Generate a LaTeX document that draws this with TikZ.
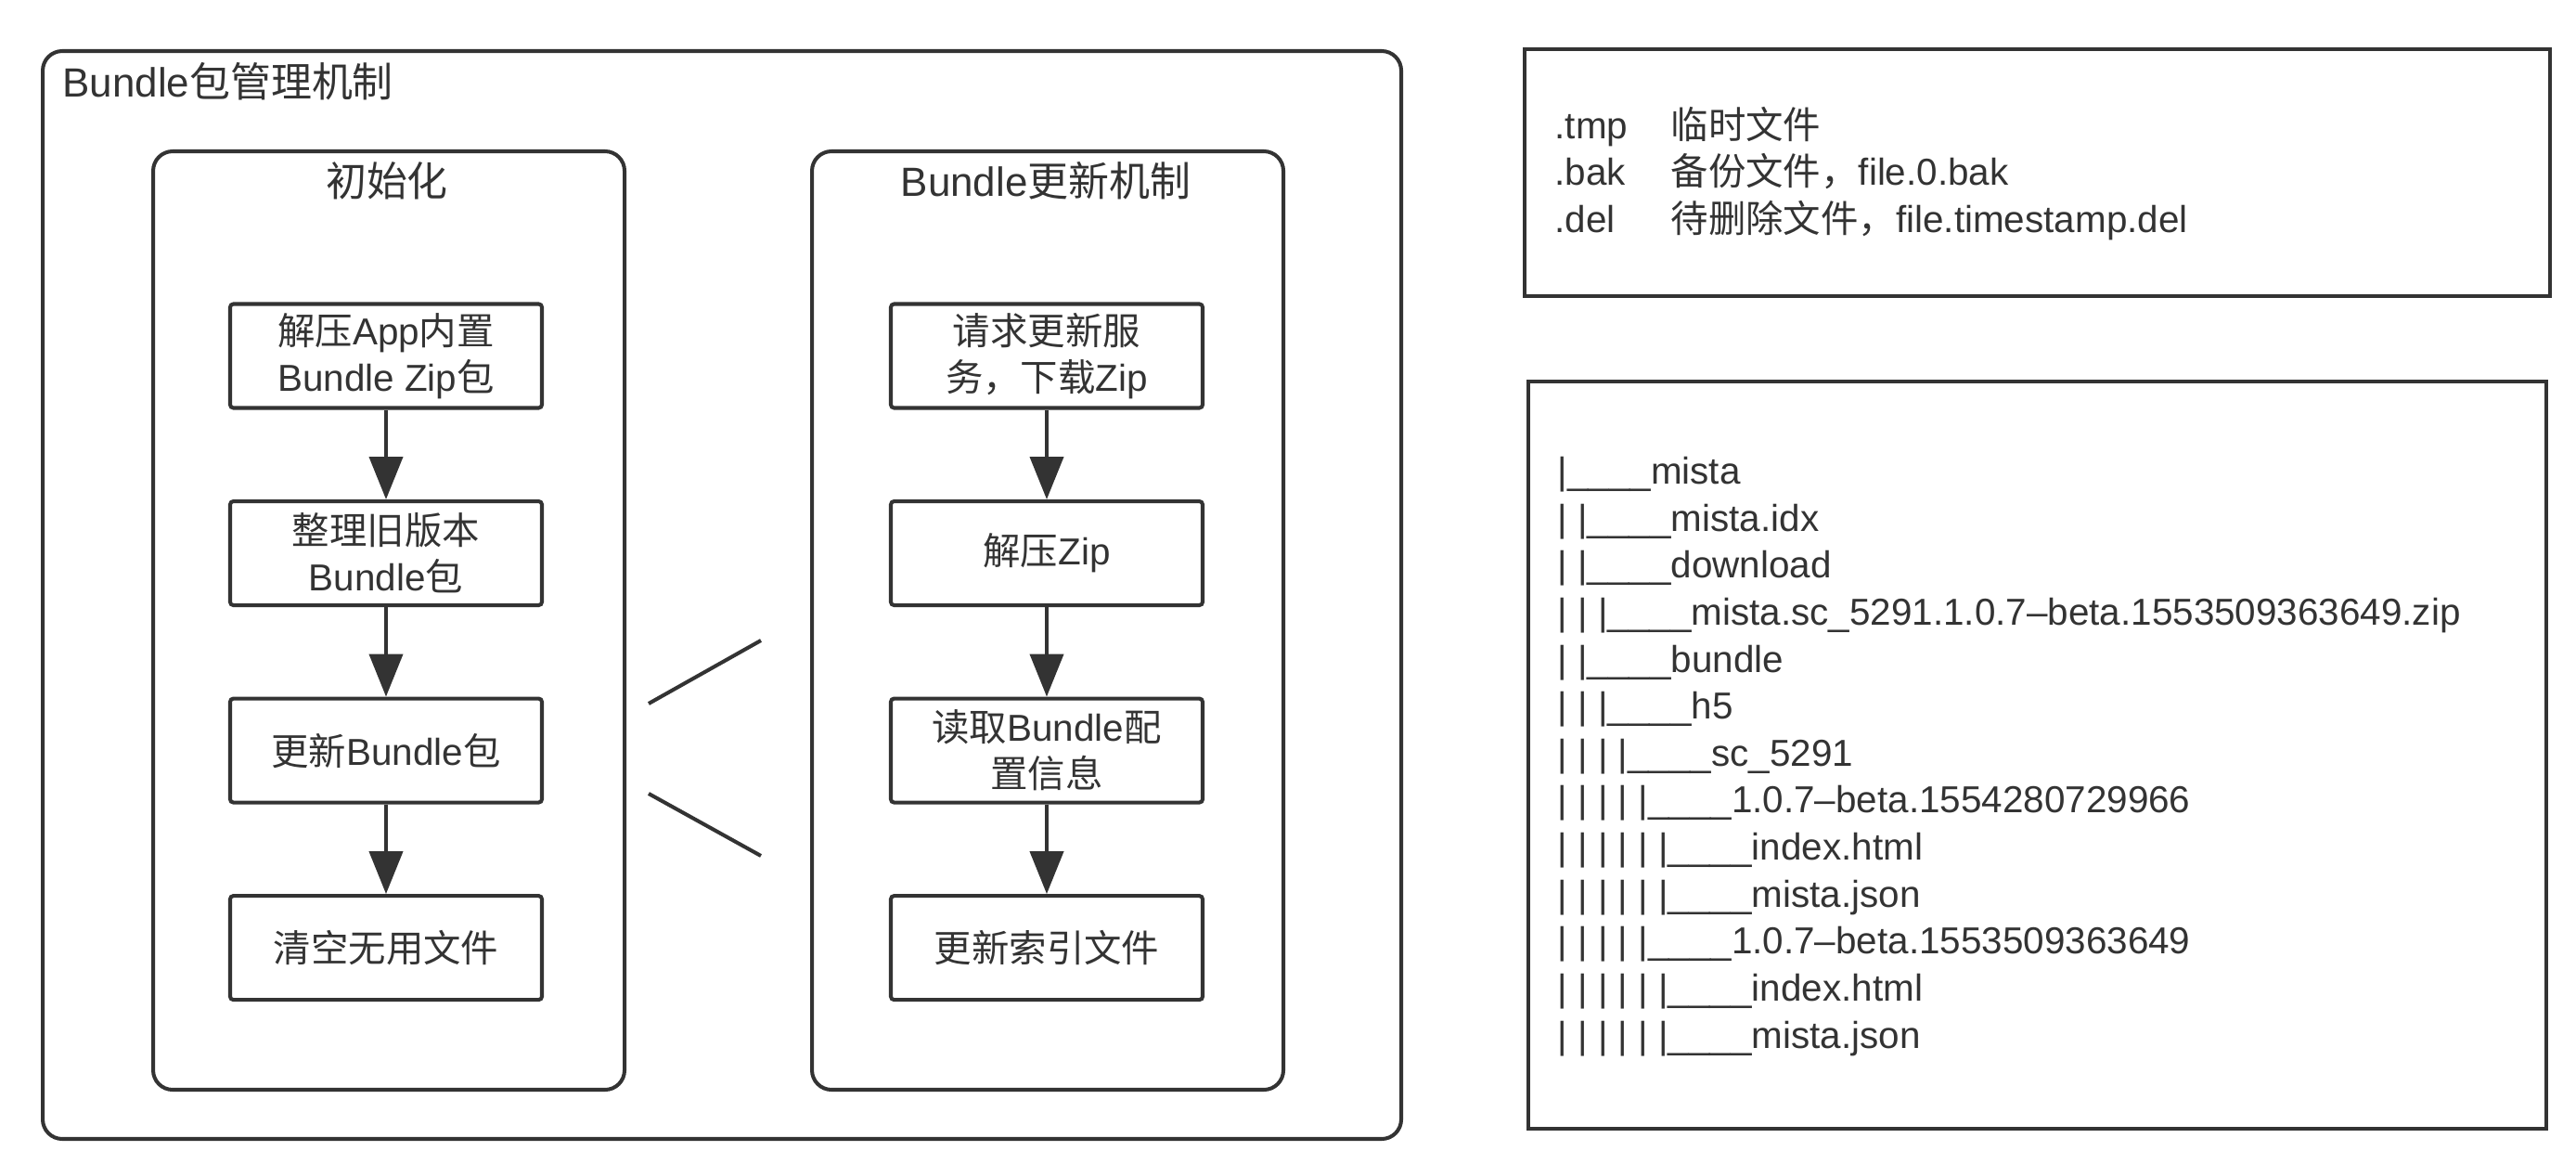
\documentclass[tikz,border=0pt]{standalone}
\usepackage{fontspec}
\setmainfont{Liberation Sans}
\newfontfamily\cjkfont{Noto Sans CJK SC}
\newcommand{\zh}[1]{{\cjkfont #1}}
\usetikzlibrary{arrows.meta,positioning}
\definecolor{linegray}{HTML}{333333}
\newcommand{\twig}{|\_\_\_\_}
\tikzset{
  panel/.style={draw=linegray, line width=1.15pt, rounded corners=6pt, anchor=north west,
                inner sep=0pt},
  panelhead/.style={font=\fontsize{12.5}{15}\selectfont, text=linegray},
  stepbox/.style={draw=linegray, line width=1.15pt, rounded corners=1pt, align=center,
                  minimum width=3.36cm, minimum height=1.12cm, inner sep=2pt,
                  font=\fontsize{11.5}{14.2}\selectfont, text=linegray},
  filebox/.style={draw=linegray, line width=1.15pt, anchor=north west, inner sep=0pt},
  filetext/.style={anchor=west, align=left, inner sep=0pt,
                   font=\fontsize{11.5}{14.4}\selectfont, text=linegray},
  steparrow/.style={-{Triangle[length=4.6mm, width=3.6mm]}, draw=linegray, fill=linegray,
                    line width=1.15pt},
  strokeline/.style={draw=linegray, line width=1.15pt}
}
\begin{document}
\begin{tikzpicture}[node distance=0.965cm]
\useasboundingbox (0,0) rectangle (27.76,-12.54);
% outer panel
\node[panel, minimum width=14.64cm, minimum height=11.72cm] (mgmt) at (0.44,-0.53) {};
\node[panelhead, anchor=west] (mgmthead) at (0.55,-0.88) {Bundle\zh{包管理机制}};
% init column
\node[panel, minimum width=5.08cm, minimum height=10.11cm] (init) at (1.63,-1.61) {};
\node[panelhead] (inithead) at (4.17,-1.95) {\zh{初始化}};
\node[stepbox] (unzip) at (4.16,-3.835) {\zh{解压}App\zh{内置}\\Bundle Zip\zh{包}};
\node[stepbox, below=of unzip] (tidy) {\zh{整理旧版本}\\Bundle\zh{包}};
\node[stepbox, below=of tidy] (renew) {\zh{更新}Bundle\zh{包}};
\node[stepbox, below=of renew] (clean) {\zh{清空无用文件}};
% update column
\node[panel, minimum width=5.08cm, minimum height=10.11cm] (update) at (8.73,-1.61) {};
\node[panelhead] (updatehead) at (11.27,-1.95) {Bundle\zh{更新机制}};
\node[stepbox] (request) at (11.28,-3.835) {\zh{请求更新服}\\\zh{务，下载}Zip};
\node[stepbox, below=of request] (extract) {\zh{解压}Zip};
\node[stepbox, below=of extract] (readcfg) {\zh{读取}Bundle\zh{配}\\\zh{置信息}};
\node[stepbox, below=of readcfg] (reindex) {\zh{更新索引文件}};
\foreach \a/\b in {unzip/tidy, tidy/renew, renew/clean,
                   request/extract, extract/readcfg, readcfg/reindex}
  \draw[steparrow] (\a) -- (\b);
% the two strokes between the columns
\coordinate (upA) at (6.99,-7.58);
\coordinate (upB) at (8.20,-6.90);
\coordinate (lowA) at (6.99,-8.55);
\coordinate (lowB) at (8.20,-9.22);
\draw[strokeline] (upA) -- (upB);
\draw[strokeline] (lowA) -- (lowB);
% suffix legend
\node[filebox, minimum width=11.05cm, minimum height=2.66cm] (suffix) at (16.41,-0.51) {};
\node[filetext] (suffixtext) at (16.75,-1.87) {%
  \makebox[1.25cm][l]{.tmp}\zh{临时文件}\\
  \makebox[1.25cm][l]{.bak}\zh{备份文件，}file.0.bak\\
  \makebox[1.25cm][l]{.del}\zh{待删除文件，}file.timestamp.del};
% directory tree
\node[filebox, minimum width=10.97cm, minimum height=8.05cm] (tree) at (16.45,-4.09) {};
\node[filetext] (treetext) at (16.78,-8.15) {%
  \twig mista\\
  | \twig mista.idx\\
  | \twig download\\
  | | \twig mista.sc\_5291.1.0.7–beta.1553509363649.zip\\
  | \twig bundle\\
  | | \twig h5\\
  | | | \twig sc\_5291\\
  | | | | \twig 1.0.7–beta.1554280729966\\
  | | | | | \twig index.html\\
  | | | | | \twig mista.json\\
  | | | | \twig 1.0.7–beta.1553509363649\\
  | | | | | \twig index.html\\
  | | | | | \twig mista.json};
\end{tikzpicture}
\end{document}
